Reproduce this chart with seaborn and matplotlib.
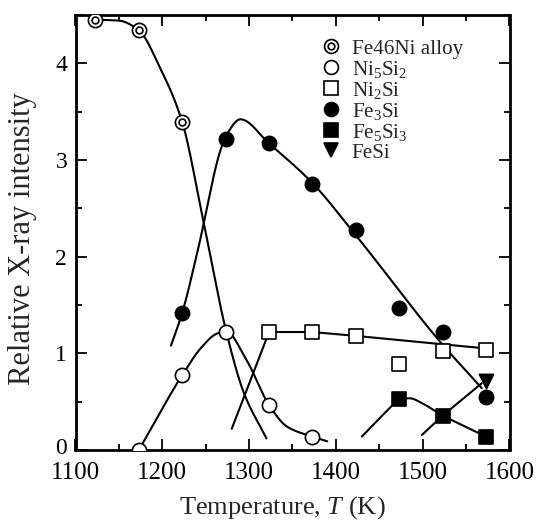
import numpy as np
import matplotlib
matplotlib.use("Agg")
import matplotlib.pyplot as plt
from matplotlib.lines import Line2D
from matplotlib.legend_handler import HandlerTuple
from matplotlib.ticker import MultipleLocator
from matplotlib.transforms import ScaledTranslation
import seaborn as sns

# ---------------- data ----------------
t_fe46ni = [1123, 1173, 1223]
v_fe46ni = [4.45, 4.34, 3.39]

t_ni5si2 = [1173, 1223, 1273, 1323, 1373]
v_ni5si2 = [0.0, 0.775, 1.22, 0.465, 0.137]

t_ni2si = [1323, 1373, 1423, 1473, 1523, 1573]
v_ni2si = [1.22, 1.22, 1.18, 0.886, 1.027, 1.034]

t_fe3si = [1223, 1273, 1323, 1373, 1423, 1473, 1523, 1573]
v_fe3si = [1.42, 3.22, 3.17, 2.75, 2.28, 1.465, 1.217, 0.545]

t_fe5si3 = [1473, 1523, 1573]
v_fe5si3 = [0.527, 0.355, 0.138]

t_fesi = [1573]
v_fesi = [0.71]

# hand-drawn guide curves (knots)
curve_fe46ni_t = [1123, 1150, 1173, 1197, 1223, 1247, 1273, 1294, 1320]
curve_fe46ni_v = [4.45, 4.44, 4.34, 3.96, 3.39, 2.38, 1.25, 0.59, 0.12]

curve_ni5si2_t = [1173, 1223, 1245, 1262, 1273, 1297, 1323, 1344, 1373, 1390]
curve_ni5si2_v = [0.0, 0.775, 1.06, 1.20, 1.23, 0.93, 0.465, 0.24, 0.137, 0.09]

curve_ni2si_t = [1280, 1323, 1373, 1423, 1573]
curve_ni2si_v = [0.22, 1.22, 1.22, 1.18, 1.05]

curve_fe3si_t = [1210, 1223, 1241, 1267, 1273, 1290, 1323, 1373, 1423, 1520, 1568]
curve_fe3si_v = [1.08, 1.42, 2.07, 3.10, 3.24, 3.42, 3.17, 2.76, 2.22, 1.12, 0.64]

curve_fe5si3_t = [1430, 1465, 1473, 1485, 1500, 1523, 1531, 1573]
curve_fe5si3_v = [0.14, 0.46, 0.527, 0.535, 0.48, 0.355, 0.32, 0.138]

curve_fesi_t = [1499, 1523, 1568]
curve_fesi_v = [0.155, 0.355, 0.69]

labels = ["Fe46Ni alloy", "Ni$_5$Si$_2$", "Ni$_2$Si", "Fe$_3$Si", "Fe$_5$Si$_3$", "FeSi"]
x_ticks = [1100, 1200, 1300, 1400, 1500, 1600]
y_ticks = [0, 1, 2, 3, 4]


def pchip(xk, yk, n=300):
    xk = np.asarray(xk, float)
    yk = np.asarray(yk, float)
    h = np.diff(xk)
    d = np.diff(yk) / h
    m = np.zeros_like(yk)
    for k in range(1, len(xk) - 1):
        if d[k - 1] * d[k] > 0:
            w1 = 2 * h[k] + h[k - 1]
            w2 = h[k] + 2 * h[k - 1]
            m[k] = (w1 + w2) / (w1 / d[k - 1] + w2 / d[k])
    m[0] = d[0]
    m[-1] = d[-1]
    xs = np.linspace(xk[0], xk[-1], n)
    idx = np.clip(np.searchsorted(xk, xs) - 1, 0, len(h) - 1)
    t = (xs - xk[idx]) / h[idx]
    h00 = 2 * t**3 - 3 * t**2 + 1
    h10 = t**3 - 2 * t**2 + t
    h01 = -2 * t**3 + 3 * t**2
    h11 = t**3 - t**2
    ys = h00 * yk[idx] + h10 * h[idx] * m[idx] + h01 * yk[idx + 1] + h11 * h[idx] * m[idx + 1]
    return xs, ys


sns.set_theme(style="ticks")
plt.rcParams["font.family"] = ["Liberation Serif", "DejaVu Serif"]
plt.rcParams["mathtext.fontset"] = "custom"
plt.rcParams["mathtext.rm"] = "Liberation Serif"
plt.rcParams["mathtext.it"] = "Liberation Serif:italic"
plt.rcParams["mathtext.bf"] = "Liberation Serif:bold"

W, H = 537, 522
fig = plt.figure(figsize=(W / 100, H / 100), dpi=100)
ax_left, ax_right, ax_top, ax_bottom = 75.5, 509.5, 14.85, 450
ax = fig.add_axes([ax_left / W, 1 - ax_bottom / H, (ax_right - ax_left) / W, (ax_bottom - ax_top) / H])

LW = 1.5
# curves
for ct, cv, smooth in [
    (curve_fe46ni_t, curve_fe46ni_v, True),
    (curve_ni5si2_t, curve_ni5si2_v, True),
    (curve_ni2si_t, curve_ni2si_v, False),
    (curve_fe3si_t, curve_fe3si_v, True),
    (curve_fe5si3_t, curve_fe5si3_v, True),
    (curve_fesi_t, curve_fesi_v, False),
]:
    if smooth:
        xs, ys = pchip(ct, cv)
    else:
        xs, ys = np.asarray(ct, float), np.asarray(cv, float)
    sns.lineplot(x=xs, y=ys, ax=ax, color="black", linewidth=LW, estimator=None,
                 sort=False, legend=False, zorder=2)

S = 105
EW = 1.2
common = dict(ax=ax, s=S, edgecolor="black", linewidth=EW, legend=False, zorder=4)
# Fe46Ni double circles
sns.scatterplot(x=t_fe46ni, y=v_fe46ni, marker="o", color="white", **common)
sns.scatterplot(x=t_fe46ni, y=v_fe46ni, marker="o", color="white", ax=ax, s=24,
                edgecolor="black", linewidth=EW, legend=False, zorder=5)
sns.scatterplot(x=t_ni5si2, y=v_ni5si2, marker="o", color="white", **common)
sns.scatterplot(x=t_ni2si, y=v_ni2si, marker="s", color="white", **common)
sns.scatterplot(x=t_fe3si, y=v_fe3si, marker="o", color="black", **common)
sns.scatterplot(x=t_fe5si3, y=v_fe5si3, marker="s", color="black", **common)
sns.scatterplot(x=t_fesi, y=v_fesi, marker="v", color="black", **common)

ax.set_xlim(1100, 1600)
ax.set_ylim(0, 4.5)
ax.set_xticks(x_ticks)
ax.set_yticks(y_ticks)
ax.xaxis.set_minor_locator(MultipleLocator(50))
ax.yaxis.set_minor_locator(MultipleLocator(0.5))
ax.tick_params(which="both", direction="in", top=True, right=True, colors="black", width=1.3)
ax.tick_params(which="major", length=8)
ax.tick_params(which="minor", length=4.5)
ax.tick_params(axis="x", which="major", labelsize=18, pad=8.5)
ax.tick_params(axis="y", which="major", labelsize=17, pad=6)
for sp in ax.spines.values():
    sp.set_visible(True)
    sp.set_linewidth(2.0)
    sp.set_color("black")

# the "0" label sits slightly above the x-axis in the reference
zero_lbl = ax.yaxis.get_major_ticks()[0].label1
zero_lbl.set_transform(zero_lbl.get_transform() + ScaledTranslation(0, 3 / 72, fig.dpi_scale_trans))

ax.set_xlabel("Temperature, $\\mathit{T}$ (K)", fontsize=19)
ax.set_ylabel("Relative X-ray intensity", fontsize=22)
ax.xaxis.set_label_coords((282 - ax_left) / (ax_right - ax_left), -(508 - ax_bottom) / (ax_bottom - ax_top))
ax.yaxis.set_label_coords(-(ax_left - 23) / (ax_right - ax_left), (ax_bottom - 239) / (ax_bottom - ax_top))
ax.xaxis.label.set_va("center")
ax.yaxis.label.set_va("center")

MS = 10
def mk(marker, fc):
    return Line2D([], [], ls="none", marker=marker, ms=MS, mfc=fc, mec="black", mew=EW)

handles = [
    (mk("o", "white"), Line2D([], [], ls="none", marker="o", ms=4.8, mfc="white", mec="black", mew=EW)),
    mk("o", "white"),
    mk("s", "white"),
    mk("o", "black"),
    mk("s", "black"),
    mk("v", "black"),
]
leg_fs = 15.2
F = leg_fs * 100 / 72
ax.legend(handles, labels, handler_map={tuple: HandlerTuple(ndivide=1)},
          loc="upper left",
          bbox_to_anchor=((330.7 - F / 2 - ax_left) / (ax_right - ax_left), (ax_bottom - 39) / (ax_bottom - ax_top)),
          frameon=False, fontsize=leg_fs, borderpad=0, borderaxespad=0,
          handlelength=1.0, handletextpad=0.49, labelspacing=0.0)

fig.savefig("out.png", dpi=100, facecolor="white")
